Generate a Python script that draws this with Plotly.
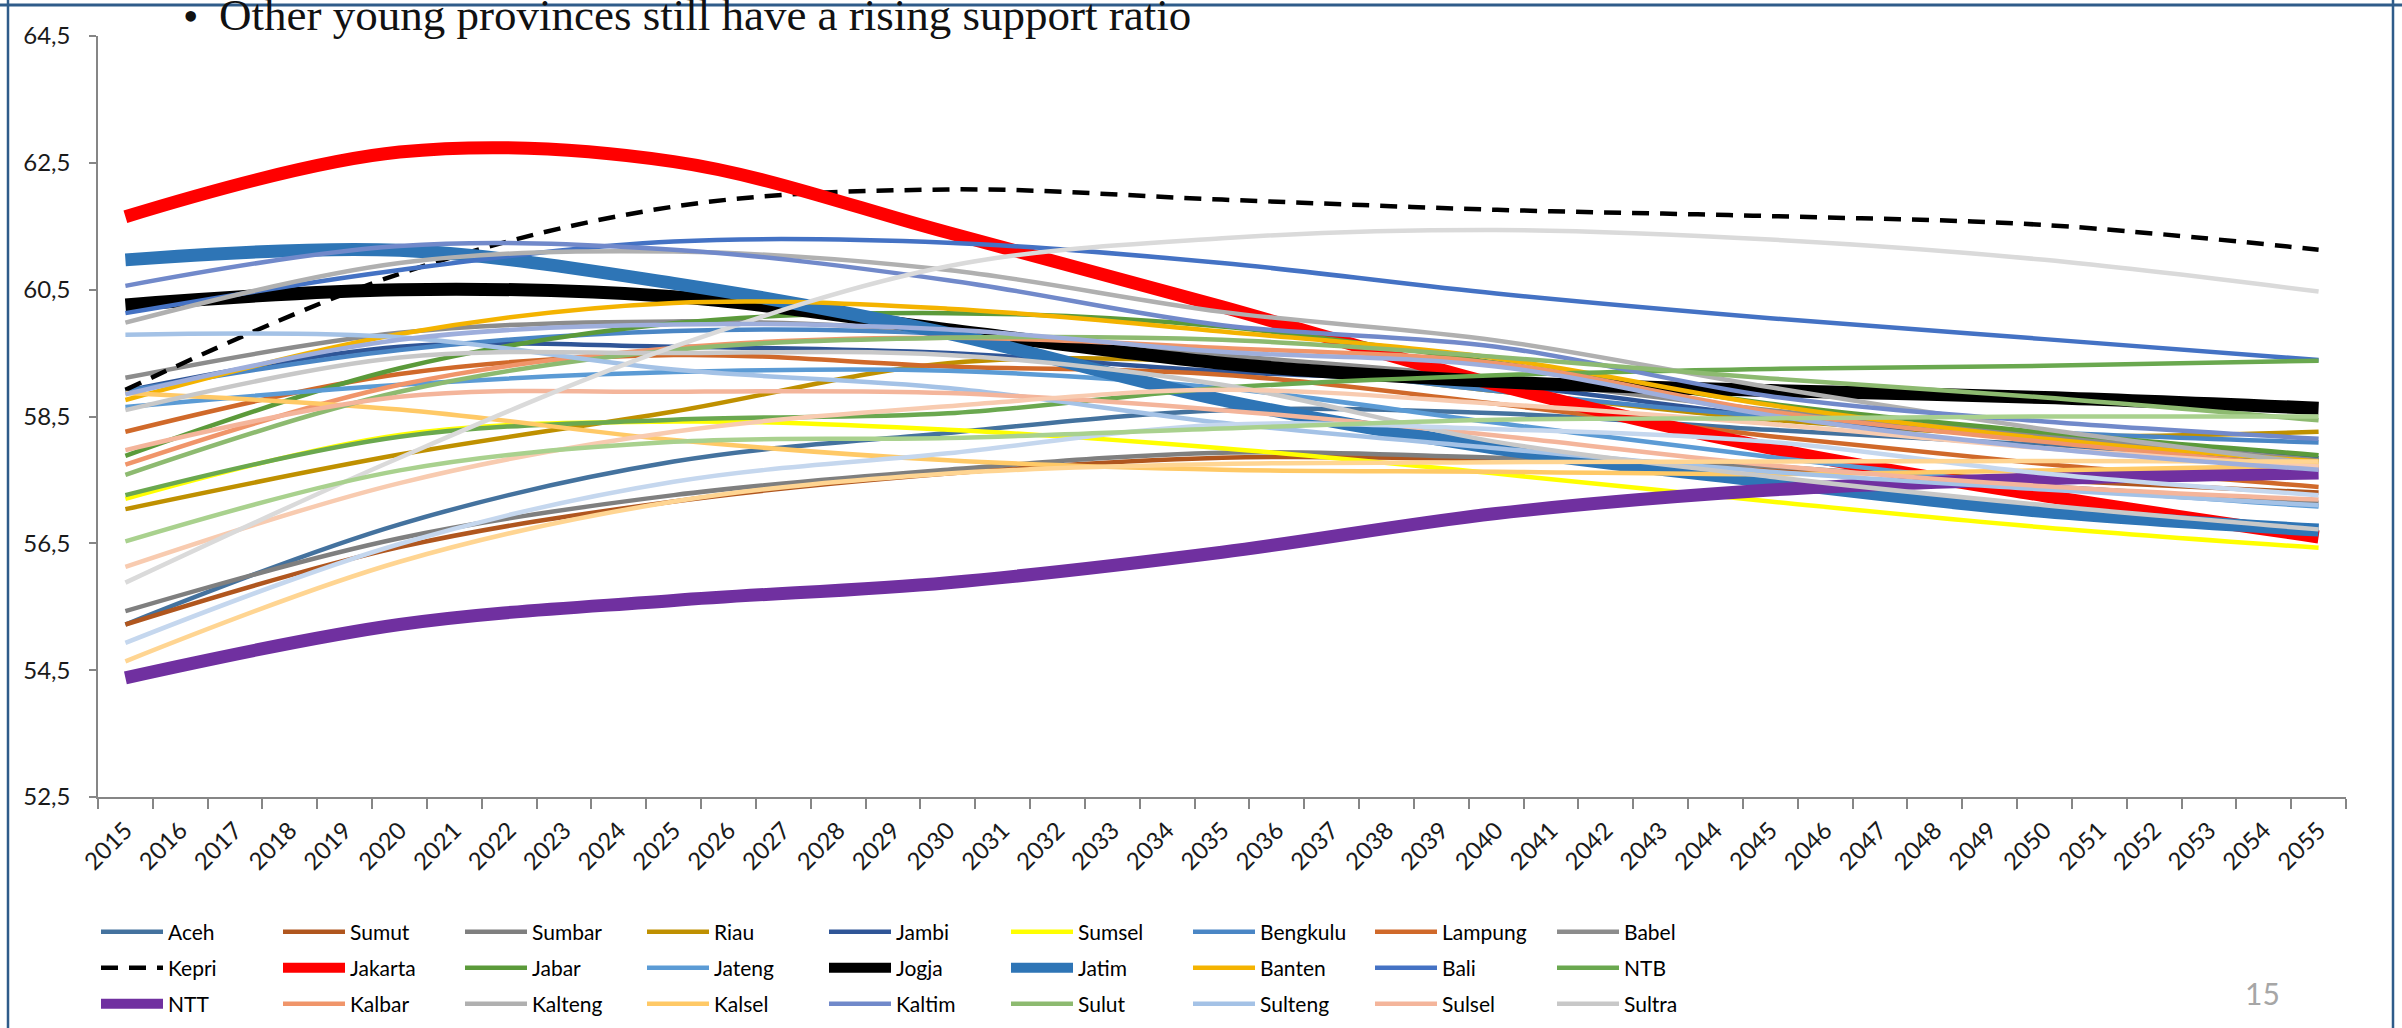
import plotly.graph_objects as go

# Category axis labels (one per year) and the 5-year points that carry data
year_labels = [str(y) for y in range(2015, 2056)]
data_years = [2015, 2020, 2025, 2030, 2035, 2040, 2045, 2050, 2055]

# Support ratio per province
aceh = [55.22, 56.80, 57.79, 58.24, 58.60, 58.55, 58.29, 58.05, 57.80]
sumut = [55.22, 56.44, 57.16, 57.60, 57.85, 57.82, 57.68, 57.50, 57.30]
sumbar = [55.43, 56.58, 57.26, 57.66, 57.93, 57.85, 57.71, 57.40, 57.14]
riau = [57.04, 57.90, 58.58, 59.34, 59.35, 58.90, 58.45, 58.20, 58.26]
jambi = [58.90, 59.60, 59.60, 59.50, 59.21, 59.00, 58.50, 58.15, 57.84]
sumsel = [57.20, 58.21, 58.42, 58.29, 58.00, 57.60, 57.16, 56.75, 56.43]
bengkulu = [58.90, 59.55, 59.85, 59.80, 59.40, 58.90, 58.50, 58.25, 58.09]
lampung = [58.26, 59.17, 59.47, 59.29, 59.16, 58.70, 58.19, 57.75, 57.39]
babel = [59.11, 59.82, 60.00, 59.85, 59.47, 59.10, 58.60, 58.20, 57.81]
kepri = [58.92, 60.75, 61.81, 62.08, 61.92, 61.76, 61.66, 61.52, 61.13]
jakarta = [61.65, 62.67, 62.52, 61.40, 60.23, 59.00, 58.00, 57.25, 56.60]
jabar = [57.88, 59.26, 59.97, 60.13, 59.92, 59.35, 58.70, 58.25, 57.89]
jateng = [58.65, 59.00, 59.20, 59.22, 58.95, 58.40, 57.86, 57.40, 57.08]
jogja = [60.26, 60.50, 60.39, 59.87, 59.34, 59.05, 58.91, 58.80, 58.63]
jatim = [60.97, 61.12, 60.60, 59.81, 58.76, 58.00, 57.47, 57.00, 56.71]
banten = [58.76, 59.80, 60.29, 60.20, 59.84, 59.42, 58.68, 58.15, 57.79]
bali = [60.13, 60.81, 61.26, 61.24, 60.92, 60.44, 60.05, 59.72, 59.39]
ntb = [57.26, 58.18, 58.45, 58.55, 58.95, 59.15, 59.25, 59.30, 59.38]
ntt = [54.38, 55.22, 55.60, 55.88, 56.36, 56.97, 57.34, 57.52, 57.61]
kalbar = [57.74, 59.00, 59.58, 59.74, 59.58, 59.34, 58.58, 58.10, 57.70]
kalteng = [59.98, 60.92, 61.10, 60.81, 60.15, 59.70, 58.96, 58.30, 57.75]
kalsel = [58.87, 58.61, 58.13, 57.81, 57.66, 57.63, 57.59, 57.65, 57.73]
kaltim = [60.56, 61.19, 61.13, 60.65, 59.94, 59.60, 58.82, 58.42, 58.15]
sulut = [57.58, 58.89, 59.55, 59.74, 59.71, 59.44, 59.10, 58.80, 58.44]
sulteng = [59.79, 59.75, 59.24, 58.95, 58.40, 58.00, 57.63, 57.35, 57.10]
sulsel = [57.97, 58.81, 58.89, 58.87, 58.60, 58.20, 57.73, 57.40, 57.19]
sultra = [58.60, 59.43, 59.50, 59.47, 59.00, 58.10, 57.55, 57.10, 56.72]
gorontalo = [54.93, 56.49, 57.47, 57.92, 58.37, 58.30, 58.10, 57.60, 57.26]
sulbar = [56.13, 57.45, 58.26, 58.66, 58.92, 58.70, 58.38, 58.00, 57.71]
maluku = [55.88, 57.85, 59.60, 60.87, 61.31, 61.44, 61.29, 60.97, 60.47]
malut = [54.64, 56.21, 57.16, 57.60, 57.75, 57.78, 57.79, 57.80, 57.79]
pabar = [58.85, 59.71, 59.95, 59.87, 59.52, 59.29, 58.52, 58.00, 57.66]
papua = [56.53, 57.65, 58.10, 58.16, 58.31, 58.45, 58.47, 58.50, 58.50]

# name, values, colour, width, dash
series = [
    ("Aceh", aceh, "#44729E", 4.5, None),
    ("Sumut", sumut, "#B0561E", 4.5, None),
    ("Sumbar", sumbar, "#7F7F7F", 4.5, None),
    ("Riau", riau, "#BF9000", 4.5, None),
    ("Jambi", jambi, "#2F5597", 4.5, None),
    ("Sumsel", sumsel, "#FFFF00", 4.5, None),
    ("Bengkulu", bengkulu, "#4A86C5", 4.5, None),
    ("Lampung", lampung, "#D0692A", 4.5, None),
    ("Babel", babel, "#8C8C8C", 4.5, None),
    ("Kepri", kepri, "#000000", 4.5, "17px,11px"),
    ("Jakarta", jakarta, "#FF0000", 13, None),
    ("Jabar", jabar, "#5B9A3A", 4.5, None),
    ("Jateng", jateng, "#5B9BD5", 4.5, None),
    ("Jogja", jogja, "#000000", 13, None),
    ("Jatim", jatim, "#2E75B6", 13, None),
    ("Banten", banten, "#F4B300", 4.5, None),
    ("Bali", bali, "#4472C4", 4.5, None),
    ("NTB", ntb, "#6AA84F", 4.5, None),
    ("NTT", ntt, "#7030A0", 13, None),
    ("Kalbar", kalbar, "#F0956A", 4.5, None),
    ("Kalteng", kalteng, "#B0B0B0", 4.5, None),
    ("Kalsel", kalsel, "#FFC966", 4.5, None),
    ("Kaltim", kaltim, "#7189CA", 4.5, None),
    ("Sulut", sulut, "#8DBA70", 4.5, None),
    ("Sulteng", sulteng, "#A4C2E6", 4.5, None),
    ("Sulsel", sulsel, "#F4B59B", 4.5, None),
    ("Sultra", sultra, "#C8C8C8", 4.5, None),
    ("Gorontalo", gorontalo, "#C5D7EE", 4.5, None),
    ("Sulbar", sulbar, "#F8CBB0", 4.5, None),
    ("Maluku", maluku, "#DADADA", 4.5, None),
    ("Malut", malut, "#FFD592", 4.5, None),
    ("Pabar", pabar, "#9EAEDC", 4.5, None),
    ("Papua", papua, "#A9D18E", 4.5, None),
]

legend_names = ["legend", "legend2", "legend3"]

fig = go.Figure()
for i, (name, vals, color, width, dash) in enumerate(series):
    line = dict(color=color, width=width, shape="spline", smoothing=1)
    if dash:
        line["dash"] = dash
    in_legend = i < 27
    fig.add_trace(go.Scatter(
        x=data_years, y=vals, name=name, mode="lines", line=line,
        showlegend=in_legend,
        legend=legend_names[i // 9] if in_legend else "legend",
    ))

W, H = 2402, 1028
L, R, T, B = 98, 56, 36, 231
pw, ph = W - L - R, H - T - B


def px_x(x):
    return (x - L) / pw


def px_y(y):
    return (H - B - y) / ph


axis_font = dict(family="Lato, Open Sans, sans-serif", size=24, color="#1a1a1a")

legend_common = dict(
    orientation="h", xref="container", yref="container", xanchor="left",
    yanchor="middle", entrywidth=105, entrywidthmode="pixels", itemwidth=62,
    font=dict(family="Lato, Open Sans, sans-serif", size=21, color="#000000"),
    bgcolor="rgba(0,0,0,0)", traceorder="normal",
)

fig.update_layout(
    width=W, height=H,
    margin=dict(l=L, r=R, t=T, b=B),
    paper_bgcolor="white", plot_bgcolor="white",
    separators=",.",
    showlegend=True,
    legend=dict(legend_common, x=96 / W, y=1 - 932 / H),
    legend2=dict(legend_common, x=96 / W, y=1 - 968 / H),
    legend3=dict(legend_common, x=96 / W, y=1 - 1004 / H),
    xaxis=dict(
        range=[2014.5, 2055.5], tickmode="array", tickvals=list(range(2015, 2056)),
        ticktext=year_labels, tickangle=-45, ticks="outside", ticklen=0,
        tickfont=axis_font, showgrid=False, zeroline=False,
        showline=True, linecolor="#868686", linewidth=1.5,
        minor=dict(tickmode="array", tickvals=[2014.5 + k for k in range(42)],
                   ticks="outside", ticklen=10, tickcolor="#868686", tickwidth=1.5,
                   showgrid=False),
        ticklabelstandoff=8,
    ),
    yaxis=dict(
        range=[52.5, 64.5], tickmode="linear", tick0=52.5, dtick=2,
        tickformat=".1f", ticks="outside", ticklen=7, tickcolor="#868686",
        tickwidth=1.5, tickfont=axis_font, showgrid=False, zeroline=False,
        showline=True, linecolor="#868686", linewidth=1.5, ticklabelstandoff=14,
    ),
)

# Slide frame
frame = "#2F5C8A"
fig.add_shape(type="line", xref="paper", yref="paper", x0=px_x(0), x1=px_x(W),
              y0=px_y(5), y1=px_y(5), line=dict(color=frame, width=3), layer="below")
fig.add_shape(type="line", xref="paper", yref="paper", x0=px_x(8), x1=px_x(8),
              y0=px_y(0), y1=px_y(H), line=dict(color=frame, width=2.5), layer="below")
fig.add_shape(type="line", xref="paper", yref="paper", x0=px_x(2393), x1=px_x(2393),
              y0=px_y(0), y1=px_y(H), line=dict(color=frame, width=2.5), layer="below")

# Slide heading text
fig.add_annotation(xref="paper", yref="paper", x=px_x(181), y=px_y(16),
                   xanchor="left", yanchor="middle", showarrow=False,
                   text="•", font=dict(family="Liberation Serif, serif", size=44, color="#111111"))
fig.add_annotation(xref="paper", yref="paper", x=px_x(217), y=px_y(15),
                   xanchor="left", yanchor="middle", showarrow=False,
                   text="Other young provinces still have a rising support ratio",
                   font=dict(family="Liberation Serif, serif", size=45, color="#111111"))

# Slide number
fig.add_annotation(xref="paper", yref="paper", x=px_x(2262), y=px_y(993),
                   xanchor="center", yanchor="middle", showarrow=False,
                   text="15", font=dict(family="Lato, sans-serif", size=30, color="#A6A6A6"))

fig.write_html("out.html")
